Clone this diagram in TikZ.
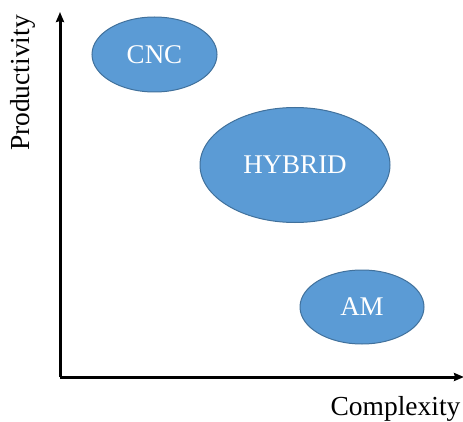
\documentclass[tikz,border=0pt]{standalone}
\usepackage{fontspec}
\setmainfont{Liberation Serif}
\usetikzlibrary{arrows,arrows.meta}
\usetikzlibrary{positioning,shapes,fit}
\usepackage{xcolor}
\definecolor{blobfill}{HTML}{5B9BD5}
\definecolor{blobline}{HTML}{41719C}

\begin{document}
\begin{tikzpicture}[x=1pt,y=1pt,
    blob/.style={ellipse,draw=blobline,line width=1pt,fill=blobfill,text=white,
      inner sep=0pt,font=\fontsize{27}{30}\selectfont},
    axis/.style={line width=3pt,-{Stealth[length=10pt,width=8pt,inset=1pt]}}]
      \useasboundingbox (0,0) rectangle (463,421);
      \coordinate (origin) at (60,44);
      \coordinate (ytop) at (60,409);
      \coordinate (xend) at (464,44);
      \draw[axis] (origin) -- (ytop);
      \draw[axis] (origin) -- (xend);
      \node[blob,minimum width=125pt,minimum height=75pt] (cnc) at (154.5,366.5) {CNC};
      \node[blob,minimum width=190pt,minimum height=115pt] (hybrid) at (295,256) {HYBRID};
      \node[blob,minimum width=124pt,minimum height=74pt] (am) at (362,114) {AM};
      \node[rotate=90,font=\fontsize{27.5}{30}\selectfont] (prod) at (23,338) {Productivity};
      \node[font=\fontsize{27.5}{30}\selectfont,anchor=east] (cplx) at (464,12) {Complexity};
    \end{tikzpicture}
\end{document}
